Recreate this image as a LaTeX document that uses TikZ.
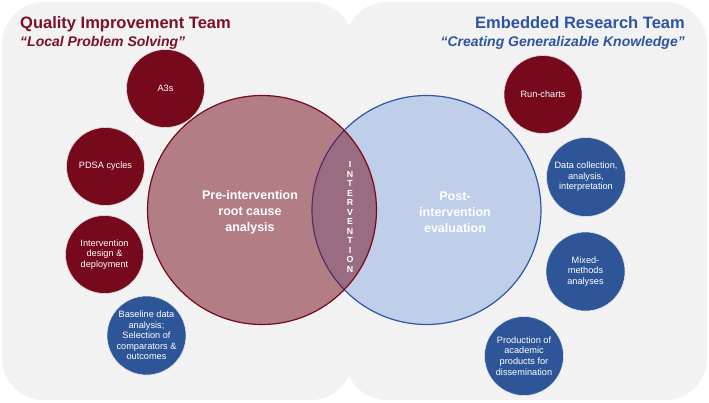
\documentclass[tikz,border=0pt]{standalone}
\usepackage{fontspec}
\setmainfont{Liberation Sans}
\definecolor{bg}{HTML}{F2F2F2}
\definecolor{qired}{HTML}{760A1C}
\definecolor{erblue}{HTML}{2E5597}
\definecolor{bigblue}{HTML}{BFCFE9}
\definecolor{bigblueline}{HTML}{2F57A5}
\definecolor{titlered}{HTML}{7B1126}
\definecolor{titleblue}{HTML}{2E54A1}
\begin{document}
\begin{tikzpicture}[x=1pt,y=-1pt,
  panel/.style={fill=bg, draw=none, rounded corners=42pt},
  smallred/.style={circle, fill=qired, draw=white!85!qired, line width=0.6pt, minimum size=78pt, inner sep=0pt, text=white, align=center, font=\fontsize{9.2}{10.6}\selectfont},
  smallblue/.style={circle, fill=erblue, draw=white!85!erblue, line width=0.6pt, minimum size=79pt, inner sep=0pt, text=white, align=center, font=\fontsize{9.2}{10.6}\selectfont},
  bigtext/.style={text=white, align=center, font=\bfseries\fontsize{12.5}{16}\selectfont},
  title/.style={font=\bfseries\fontsize{16.5}{18}\selectfont, inner sep=0pt},
  subtitle/.style={font=\bfseries\itshape\fontsize{14}{16}\selectfont, inner sep=0pt}]
\useasboundingbox[fill=white] (0,0) rectangle (709,402);
% panels
\path[panel] (2,2) rectangle (353,400);
\path[panel] (345,2) rectangle (707,400);
% big circles
\node[circle, minimum size=229pt, inner sep=0pt, fill=bigblue, draw=bigblueline, line width=1.2pt] (post) at (426.5,210) {};
\node[circle, minimum size=229pt, inner sep=0pt, fill=qired, fill opacity=0.5, draw=qired, line width=1.2pt] (pre) at (262,210) {};
% big texts
\node[bigtext] (pretext) at (250,212) {Pre-intervention\\root cause\\analysis};
\node[bigtext] (posttext) at (455,212) {Post-\\intervention\\evaluation};
\node[text=white, align=center, inner sep=0pt, font=\bfseries\fontsize{8.8}{9.5}\selectfont] (interv) at (350,217) {I\\N\\T\\E\\R\\V\\E\\N\\T\\I\\O\\N};
% titles
\node[title, text=titlered, anchor=base west] (qit) at (20,28) {Quality Improvement Team};
\node[subtitle, text=titlered, anchor=base west] (qis) at (20,46) {“Local Problem Solving”};
\node[title, text=titleblue, anchor=base east] (ert) at (685,28) {Embedded Research Team};
\node[subtitle, text=titleblue, anchor=base east] (ers) at (685,46) {“Creating Generalizable Knowledge”};
% small circles left
\node[smallred] (a3) at (165.5,88.5) {A3s};
\node[smallred] (pdsa) at (105.5,166.5) {PDSA cycles};
\node[smallred] (design) at (104.5,254.5) {Intervention\\design \&\\deployment};
\node[smallblue] (baseline) at (146.5,335.5) {Baseline data\\analysis;\\Selection of\\comparators \&\\outcomes};
% small circles right
\node[smallred] (run) at (543,94.5) {Run-charts};
\node[smallblue] (data) at (586,177) {Data collection,\\analysis,\\interpretation};
\node[smallblue] (mixed) at (585.5,271.5) {Mixed-\\methods\\analyses};
\node[smallblue] (prod) at (524,356) {Production of\\academic\\products for\\dissemination};
\end{tikzpicture}
\end{document}
